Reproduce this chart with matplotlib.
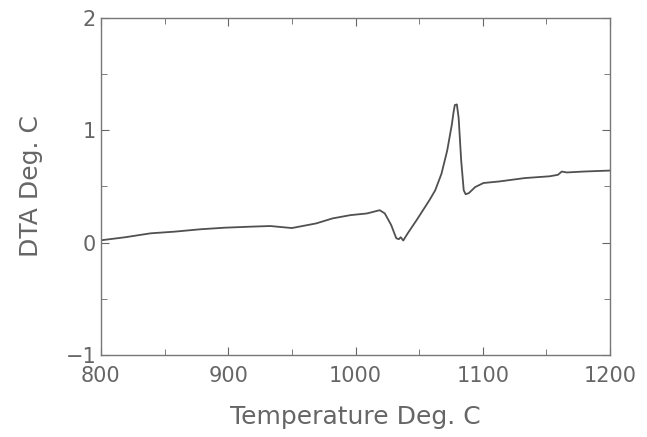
import matplotlib
matplotlib.use("Agg")
import matplotlib.pyplot as plt
from matplotlib.ticker import MultipleLocator

# DTA trace
temperature = [800, 819, 839, 858, 878, 897, 917, 933, 950, 969, 982, 996, 1009,
               1019, 1023, 1028, 1032, 1034, 1035.5, 1037.5, 1041, 1048, 1058,
               1062.6, 1067.5, 1072, 1075.7, 1077, 1078, 1079.6, 1081, 1083, 1085,
               1086.5, 1089, 1094, 1100.5, 1113, 1133, 1152.6, 1159, 1162, 1166,
               1179, 1200]
dta = [0.02, 0.047, 0.082, 0.097, 0.118, 0.132, 0.141, 0.147, 0.129, 0.17, 0.215,
       0.244, 0.259, 0.288, 0.259, 0.156, 0.038, 0.03, 0.047, 0.018, 0.082, 0.2,
       0.376, 0.465, 0.612, 0.818, 1.053, 1.16, 1.224, 1.23, 1.11, 0.73, 0.465, 0.43,
       0.44, 0.494, 0.53, 0.544, 0.574, 0.59, 0.603, 0.632, 0.624, 0.632, 0.641]

grey = "#666666"
fig = plt.figure(figsize=(6.47, 4.37), dpi=100)
ax = fig.add_axes([0.156, 0.188, 0.787, 0.771])
ax.plot(temperature, dta, color="#505050", lw=1.3)

ax.set_xlim(800, 1200)
ax.set_ylim(-1, 2)
ax.xaxis.set_major_locator(MultipleLocator(100))
ax.xaxis.set_minor_locator(MultipleLocator(50))
ax.yaxis.set_major_locator(MultipleLocator(1))
ax.yaxis.set_minor_locator(MultipleLocator(0.5))
ax.tick_params(which="both", direction="in", top=True, right=True, colors=grey,
               labelsize=15, labelcolor=grey)
ax.tick_params(which="major", length=6)
ax.tick_params(which="minor", length=4)
ax.tick_params(axis="x", pad=8)
for s in ax.spines.values():
    s.set_color("#777777")
    s.set_linewidth(1)

ax.set_xlabel("Temperature Deg. C", fontsize=18, color=grey, labelpad=14)
ax.set_ylabel("DTA Deg. C", fontsize=18, color=grey, labelpad=16)

fig.savefig("out.png", dpi=100)
